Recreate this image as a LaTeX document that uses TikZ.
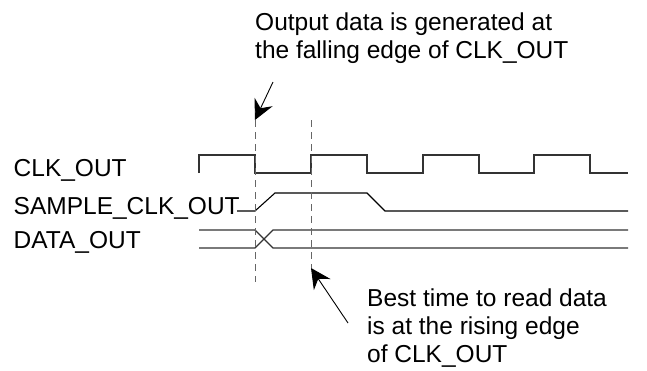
\documentclass[tikz,border=0pt]{standalone}
\usepackage{fontspec}
\setmainfont{Liberation Sans}
\usetikzlibrary{arrows.meta}
\begin{document}
\begin{tikzpicture}[x=1pt,y=-1pt,
  lbl/.style={anchor=base west,inner sep=0pt,font=\fontsize{24.5}{28}\selectfont},
  note/.style={anchor=north west,inner sep=0pt,align=left,font=\fontsize{24.5}{28}\selectfont},
  wave/.style={line width=1.1pt,draw=black!80},
  guide/.style={line width=1pt,draw=black!60,dash pattern=on 7pt off 5pt},
  pointer/.style={line width=0.9pt,-{Stealth[length=20pt,width=20pt,inset=7pt]}}]
\useasboundingbox (0,0) rectangle (647,370);
% labels
\node[lbl] (clk) at (13.5,176) {CLK\_OUT};
\node[lbl] (smp) at (13.5,214) {SAMPLE\_CLK\_OUT};
\node[lbl] (dat) at (13.5,248) {DATA\_OUT};
% waveforms
\draw[wave] (199,173)--(199,155)--(255,155)--(255,173)--(311,173)--(311,155)--(367,155)--(367,173)--(423,173)--(423,155)--(479,155)--(479,173)--(534,173)--(534,155)--(590,155)--(590,173)--(628,173);
\draw[wave,draw=black] (237,211)--(255,211)--(275,193)--(367,193)--(385,211)--(628,211);
\draw[wave] (199,230)--(255,230)--(273,248)--(628,248);
\draw[wave] (199,248)--(255,248)--(273,230)--(628,230);
% guides
\coordinate (g1top) at (255,120);
\coordinate (g1bot) at (255,282);
\coordinate (g2top) at (311,120);
\coordinate (g2bot) at (311,268);
\draw[guide] (g1top) -- (g1bot);
\draw[guide] (g2top) -- (g2bot);
% notes
\node[note] (n1) at (255,13) {Output data is generated at\\the falling edge of CLK\_OUT};
\node[note] (n2) at (367,289) {Best time to read data\\is at the rising edge\\of CLK\_OUT};
\coordinate (t1) at (273,82);
\coordinate (t2) at (348,323);
\draw[pointer] (t1) -- (g1top);
\draw[pointer] (t2) -- (g2bot);
\end{tikzpicture}
\end{document}
